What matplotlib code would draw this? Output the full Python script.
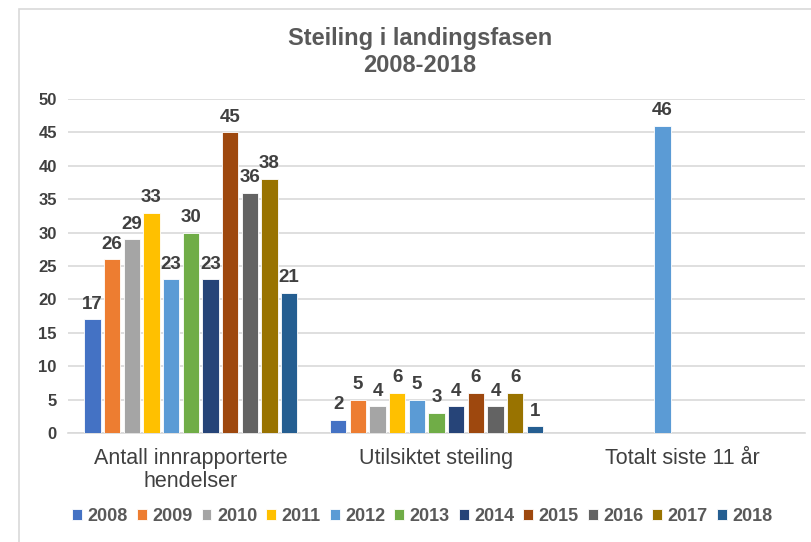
import matplotlib.pyplot as plt
from matplotlib.patches import Rectangle
import numpy as np

plt.rcParams['font.family'] = ['Liberation Sans', 'DejaVu Sans']

# Data
categories = ['Antall innrapporterte\nhendelser', 'Utilsiktet steiling', 'Totalt siste 11 år']
years = ['2008', '2009', '2010', '2011', '2012', '2013', '2014', '2015', '2016', '2017', '2018']
antall = [17, 26, 29, 33, 23, 30, 23, 45, 36, 38, 21]
utilsiktet = [2, 5, 4, 6, 5, 3, 4, 6, 4, 6, 1]
totalt = [None, None, None, None, 46, None, None, None, None, None, None]
colors = ['#4472C4', '#ED7D31', '#A5A5A5', '#FFC000', '#5B9BD5', '#70AD47',
          '#264478', '#9E480E', '#636363', '#997300', '#255E91']

fig = plt.figure(figsize=(8.12, 5.42), dpi=100)
ax = fig.add_axes([0.0837, 0.2011, 0.9077, 0.6162])

# outer chart frame
fig.patches.append(Rectangle((19 / 812, -0.1), 1.2, 1 - 9 / 542 + 0.1,
                             transform=fig.transFigure, fill=False,
                             edgecolor='#D9D9D9', linewidth=1.2))

x = np.arange(len(categories))
pitch = 0.08
width = 0.066
textc = '#404040'

for i, yr in enumerate(years):
    vals = [antall[i], utilsiktet[i], totalt[i]]
    vals = [np.nan if v is None else v for v in vals]
    pos = x + (i - 5) * pitch
    bars = ax.bar(pos, vals, width, color=colors[i], edgecolor='white',
                  linewidth=0.6, label=yr, zorder=3)
    for b, v in zip(bars, vals):
        if not np.isnan(v):
            ax.text(b.get_x() + b.get_width() / 2, v + 1.0, f'{int(v)}',
                    ha='center', va='bottom', fontsize=13.5, fontweight='bold',
                    color=textc)

ax.set_xlim(-0.5, 2.5)
ax.set_ylim(0, 50)
ax.set_yticks(range(0, 51, 5))
ax.yaxis.grid(True, color='#D9D9D9', linewidth=1.2, zorder=0)
ax.set_axisbelow(True)
for s in ['top', 'right', 'left']:
    ax.spines[s].set_visible(False)
ax.spines['bottom'].set_color('#D9D9D9')
ax.spines['bottom'].set_linewidth(1.2)
ax.tick_params(axis='both', length=0)
ax.tick_params(axis='y', labelsize=12, labelcolor=textc, pad=8)
ax.tick_params(axis='x', labelsize=15.5, labelcolor='#404040', pad=11)
ax.set_xticks(x)
ax.set_xticklabels(categories, linespacing=1.1)
for t in ax.get_yticklabels():
    t.set_fontweight('bold')

fig.text(0.517, 0.904, 'Steiling i landingsfasen\n2008-2018', ha='center',
         va='center', fontsize=17, fontweight='bold', color='#595959',
         linespacing=1.25)

leg = fig.legend(loc='center', bbox_to_anchor=(0.52, 0.047), ncol=11,
                 frameon=False, handlelength=0.55, handleheight=0.55,
                 handletextpad=0.3, columnspacing=0.5,
                 prop={'size': 13, 'weight': 'bold'})
for t in leg.get_texts():
    t.set_color('#595959')

fig.savefig('out.png', dpi=100)
